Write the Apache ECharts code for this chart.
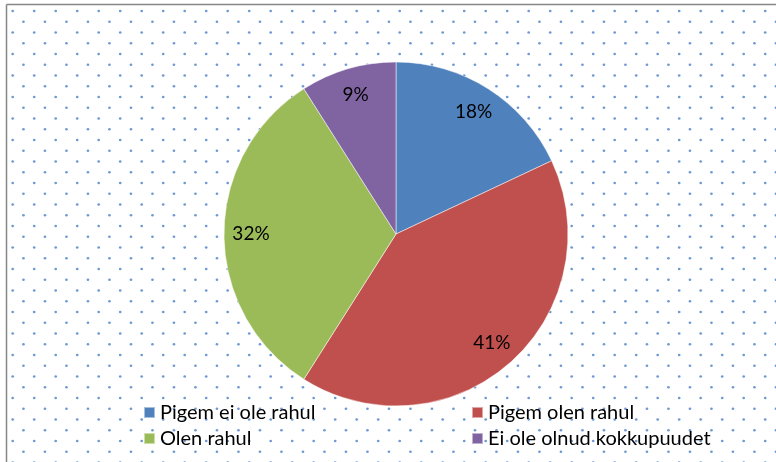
<!DOCTYPE html>
<html>
<head>
<meta charset="utf-8">
<script src="https://cdn.jsdelivr.net/npm/echarts@6/dist/echarts.min.js"></script>
<style>
  html, body { margin: 0; padding: 0; background: #fff; }
  #chart { width: 776px; height: 462px; }
</style>
</head>
<body>
<div id="chart"></div>
<script>
// données du graphique
const categories = ['Pigem ei ole rahul', 'Pigem olen rahul', 'Olen rahul', 'Ei ole olnud kokkupuudet'];
const values = [18, 41, 32, 9];
const colors = ['#4F81BD', '#C0504D', '#9BBB59', '#8064A2'];

// motif de points (fond pointillé)
function dotPattern() {
    const c = document.createElement('canvas');
    c.width = 43;
    c.height = 43;
    const ctx = c.getContext('2d');
    ctx.fillStyle = 'rgba(74, 126, 200, 0.8)';
    const dots = [
        [1.95, 0.25], [23.45, 0.25], [44.95, 0.25],
        [1.95, 43.25], [23.45, 43.25], [44.95, 43.25],
        [12.7, 11], [34.2, 11],
        [1.95, 21.75], [23.45, 21.75], [44.95, 21.75],
        [12.7, 32.5], [34.2, 32.5]
    ];
    dots.forEach(d => {
        ctx.beginPath();
        ctx.arc(d[0], d[1], 1.35, 0, Math.PI * 2);
        ctx.fill();
    });
    return c;
}

const pieData = categories.map((name, i) => ({ name: name, value: values[i], itemStyle: { color: colors[i] } }));
const labelData = categories.map((name, i) => ({ name: name, value: values[i] }));

const legendText = { color: '#000', fontFamily: 'Lato', fontSize: 20, lineHeight: 21 };

const myChart = echarts.init(document.getElementById('chart'));
myChart.setOption({
    backgroundColor: { image: dotPattern(), repeat: 'repeat' },
    animation: false,
    graphic: [
        { type: 'rect', shape: { x: 0, y: 0, width: 776, height: 4 }, style: { fill: '#fff' }, silent: true },
        { type: 'rect', shape: { x: 0, y: 0, width: 6, height: 462 }, style: { fill: '#fff' }, silent: true },
        { type: 'line', shape: { x1: 6.5, y1: 4.5, x2: 776, y2: 4.5 }, style: { stroke: '#868686', lineWidth: 1.5 }, silent: true },
        { type: 'line', shape: { x1: 6.5, y1: 4.5, x2: 6.5, y2: 462 }, style: { stroke: '#868686', lineWidth: 1.5 }, silent: true }
    ],
    legend: [
        {
            orient: 'vertical', left: 143, top: 402, padding: 0, itemWidth: 11, itemHeight: 11, itemGap: 5,
            icon: 'rect', selectedMode: false, textStyle: legendText,
            data: [
                { name: categories[0], itemStyle: { color: colors[0] } },
                { name: categories[2], itemStyle: { color: colors[2] } }
            ]
        },
        {
            orient: 'vertical', left: 471, top: 402, padding: 0, itemWidth: 11, itemHeight: 11, itemGap: 5,
            icon: 'rect', selectedMode: false, textStyle: legendText,
            data: [
                { name: categories[1], itemStyle: { color: colors[1] } },
                { name: categories[3], itemStyle: { color: colors[3] } }
            ]
        }
    ],
    series: [
        {
            type: 'pie',
            center: [396, 234],
            radius: 172,
            startAngle: 90,
            clockwise: true,
            label: { show: false },
            labelLine: { show: false },
            itemStyle: { borderColor: 'rgba(255,255,255,0.5)', borderWidth: 1 },
            emphasis: { disabled: true },
            data: pieData
        },
        {
            // série transparente pour placer les étiquettes plus près du bord
            type: 'pie',
            center: [396, 234],
            radius: [112, 172],
            startAngle: 90,
            clockwise: true,
            silent: true,
            itemStyle: { color: 'rgba(0,0,0,0)' },
            label: {
                show: true, position: 'inside', formatter: '{d}%',
                color: '#000', fontFamily: 'Lato', fontSize: 19
            },
            labelLine: { show: false },
            emphasis: { disabled: true },
            data: labelData
        }
    ]
});
</script>
</body>
</html>
